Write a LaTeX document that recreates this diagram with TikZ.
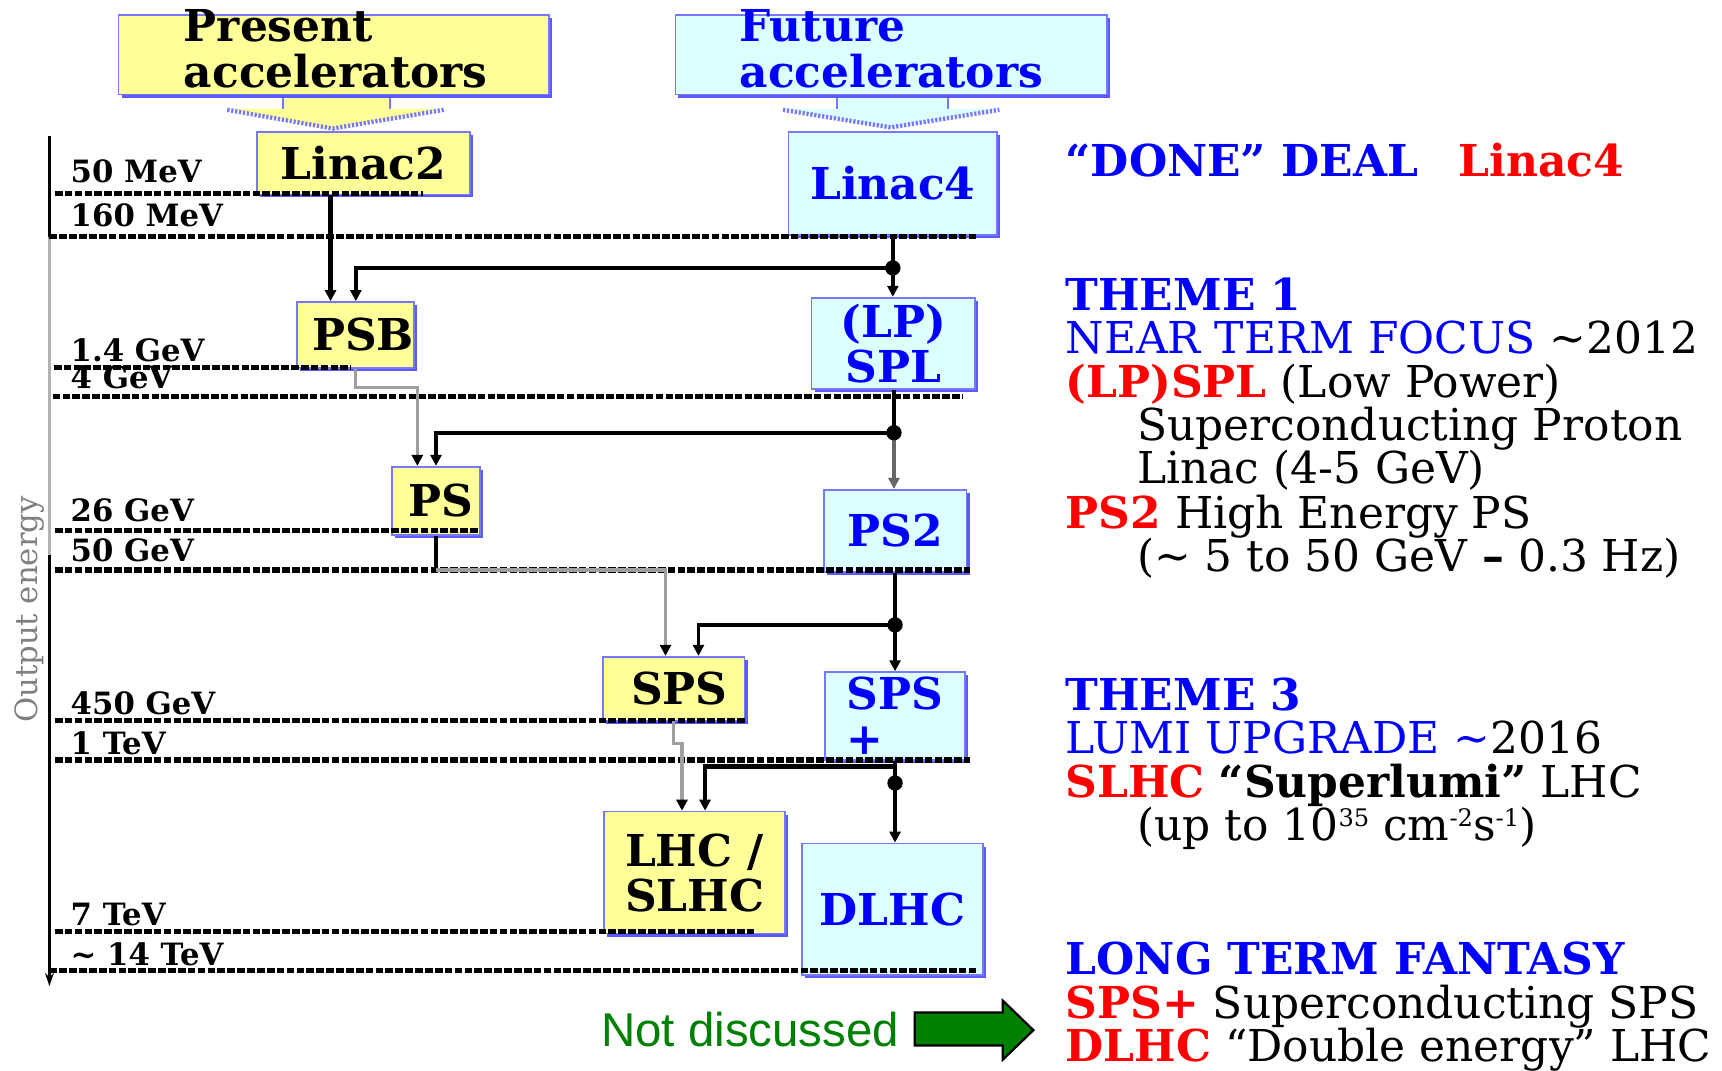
\documentclass[tikz,border=0pt]{standalone}
\usepackage{fontspec}
\setmainfont{DejaVu Serif}
\newfontfamily\sansf{Liberation Sans}
\usetikzlibrary{arrows.meta,shadows}
\definecolor{ylw}{RGB}{255,255,153}
\definecolor{cyn}{RGB}{221,255,255}
\definecolor{bord}{RGB}{120,120,255}
\definecolor{shad}{RGB}{90,90,255}
\definecolor{dgreen}{RGB}{0,128,0}
\definecolor{pblue}{RGB}{0,0,255}
\definecolor{pred}{RGB}{255,0,0}
\newcommand{\supx}[1]{\raisebox{6pt}{\fontsize{11}{11}\selectfont #1}}
\tikzset{
  box/.style={draw=bord, line width=0.8pt, inner sep=0pt, align=center,
    font=\bfseries\fontsize{20}{20.5}\selectfont,
    drop shadow={shadow xshift=1.4pt, shadow yshift=-1.4pt, fill=shad, opacity=1}},
  presbox/.style={box, fill=ylw, text=black},
  futbox/.style={box, fill=cyn, text=pblue},
  tbig/.style={anchor=base west, inner sep=0pt, font=\bfseries\fontsize{20}{20}\selectfont},
  elevel/.style={line width=2.3pt, dash pattern=on 3.5pt off 1pt},
  elabel/.style={anchor=base west, inner sep=0pt, font=\bfseries\fontsize{14}{14}\selectfont},
  wire/.style={line width=2pt, black},
  conn/.style={wire, -{Triangle[length=5pt,width=5pt]}},
  gconn/.style={line width=1.5pt, gray!75, -{Triangle[length=5pt,width=5pt,color=black]}},
  rtext/.style={anchor=base west, inner sep=0pt, font=\fontsize{20}{20}\selectfont},
  dot/.style={fill=black}
}
\begin{document}
\begin{tikzpicture}[x=0.5pt,y=-0.5pt]
\useasboundingbox[fill=white] (0,0) rectangle (1568,975);

% header arrows
\fill[ylw] (258,84) -- (258,99) -- (207,99) -- (303,118) -- (404,99) -- (355,99) -- (355,84) -- cycle;
\draw[bord, line width=0.8pt] (258,86) -- (258,99) (355,99) -- (355,86);
\draw[bord, line width=2pt, dash pattern=on 1pt off 0.8pt] (207,100) -- (303,117) -- (404,100);
\fill[cyn] (762,84) -- (762,99) -- (713,99) -- (811,117) -- (910,99) -- (863,99) -- (863,84) -- cycle;
\draw[bord, line width=0.8pt] (762,86) -- (762,99) (863,99) -- (863,86);
\draw[bord, line width=2pt, dash pattern=on 1pt off 0.8pt] (713,100) -- (811,116) -- (910,100);

% header boxes
\node[presbox, minimum width=196pt, minimum height=36pt] (pres) at (304,50) {};
\node[tbig] (pres1) at (167,38) {Present};
\node[tbig] (pres2) at (167,80) {accelerators};
\node[futbox, minimum width=196.5pt, minimum height=36pt] (fut) at (811.5,50) {};
\node[tbig, text=pblue] (fut1) at (673,38) {Future};
\node[tbig, text=pblue] (fut2) at (673,80) {accelerators};

% accelerator boxes
\node[presbox, minimum width=97pt, minimum height=28.5pt] (linac2) at (331,148.5) {Linac2};
\node[futbox, minimum width=95pt, minimum height=47pt] (linac4) at (813,167) {Linac4};
\node[presbox, minimum width=52.5pt, minimum height=30pt] (psb) at (323.5,305) {\hspace*{7pt}PSB};
\node[futbox, minimum width=74.5pt, minimum height=41.5pt] (spl) at (813.5,312.5) {(LP)\\SPL};
\node[presbox, minimum width=40pt, minimum height=31pt] (ps) at (397,456) {\hspace*{4pt}PS};
\node[futbox, minimum width=65pt, minimum height=37.5pt] (ps2) at (815,483.5) {PS2};
\node[presbox, minimum width=64.5pt, minimum height=29pt] (sps) at (613.5,627) {\hspace*{5pt}SPS};
\node[futbox, minimum width=64pt, minimum height=40pt, align=left] (spsp) at (815,652) {SPS\\+};
\node[presbox, minimum width=82.5pt, minimum height=55.5pt, align=left] (lhc) at (632.5,794.5) {LHC /\\SLHC};
\node[futbox, minimum width=82.5pt, minimum height=60pt] (dlhc) at (812.5,828) {DLHC};

% axis
\coordinate (axtop) at (45,124);
\coordinate (axbot) at (45,898);
\draw[line width=1.1pt, -{Stealth[length=6pt,width=4pt]}] (axtop) -- (axbot);
\draw[gray!60, line width=1.4pt] (45,216) -- (45,505);
\node[rotate=90, text=gray, inner sep=0pt, font=\fontsize{14}{14}\selectfont] (axlab) at (27,555) {Output energy};

% energy levels
\draw[elevel] (50,176) -- (385,176);
\draw[elevel] (45,215) -- (891,215);
\draw[elevel] (49,335) -- (320,335);
\draw[elevel] (48,361) -- (877,361);
\draw[elevel] (50,483) -- (437,483);
\draw[elevel] (50,519) -- (883,519);
\draw[elevel] (50,656) -- (678,656);
\draw[elevel] (50,692) -- (883,692);
\draw[elevel] (50,848) -- (688,848);
\draw[elevel] (45,884) -- (890,884);
\node[elabel] (e1) at (64,166) {50 MeV};
\node[elabel] (e2) at (64,206) {160 MeV};
\node[elabel] (e3) at (64,329) {1.4 GeV};
\node[elabel] (e4) at (64,354) {4 GeV};
\node[elabel] (e5) at (64,475) {26 GeV};
\node[elabel] (e6) at (64,511) {50 GeV};
\node[elabel] (e7) at (64,651) {450 GeV};
\node[elabel] (e8) at (64,687) {1 TeV};
\node[elabel] (e9) at (64,843) {7 TeV};
\node[elabel] (e10) at (64,879) {\textasciitilde{} 14 TeV};

% guides and junctions
\coordinate (gA) at (301,0);
\coordinate (gB) at (324,0);
\coordinate (gC) at (380,0);
\coordinate (gD) at (397,0);
\coordinate (gE) at (606,0);
\coordinate (gF) at (636,0);
\coordinate (gG) at (613,0);
\coordinate (gH) at (621,0);
\coordinate (gI) at (642,0);
\coordinate (j1) at (813,244);
\coordinate (j2) at (814,394);
\coordinate (j3) at (815,569);
\coordinate (k4) at (815,698);
\coordinate (j4) at (815,713);
\coordinate (b1) at (380,353);
\coordinate (b2) at (397,519);
\coordinate (b3) at (621,677);

% connectors
\draw[conn] (linac2.south -| gA) -- (psb.north -| gA);
\draw[wire] (linac4.south -| j1) -- (j1);
\draw[conn, line width=1.5pt] (j1) -- (spl.north -| j1);
\draw[conn] (j1) -| (psb.north -| gB);
\draw[gconn] (psb.south -| gB) |- (b1) -- (ps.north -| gC);
\draw[wire] (spl.south -| j2) -- (j2);
\draw[conn, line width=1.5pt, gray!80!black] (j2) -- (ps2.north -| j2);
\draw[conn] (j2) -| (ps.north -| gD);
\draw[wire, line width=1.5pt] (ps.south -| gD) -- (b2);
\draw[gconn] (b2) -| (sps.north -| gE);
\draw[wire] (ps2.south -| j3) -- (j3);
\draw[conn] (j3) -- (spsp.north -| j3);
\draw[conn, line width=1.5pt] (j3) -| (sps.north -| gF);
\draw[gconn] (sps.south -| gG) |- (b3) -- (lhc.north -| gH);
\draw[wire, line width=1.5pt] (spsp.south -| k4) -- (k4);
\draw[conn] (k4) -| (lhc.north -| gI);
\draw[conn, line width=1.5pt] (k4) -- (dlhc.north -| k4);
\foreach \j in {j1,j2,j3,j4} \fill[dot] (\j) circle[radius=3.5pt];

% right column
\node[rtext, font=\bfseries\fontsize{20}{20}\selectfont, text=pblue] (r1) at (970,161) {“DONE” DEAL};
\node[rtext, font=\bfseries\fontsize{20}{20}\selectfont, text=pred] (r1b) at (1328,161) {Linac4};
\node[rtext, font=\bfseries\fontsize{20}{20}\selectfont, text=pblue] (r2) at (970,283) {THEME 1};
\node[rtext] (r3) at (970,322) {\textcolor{pblue}{NEAR TERM FOCUS} \textasciitilde2012};
\node[rtext] (r4) at (970,362) {\textcolor{pred}{\bfseries (LP)SPL} (Low Power)};
\node[rtext] (r5) at (1035,401) {Superconducting Proton};
\node[rtext] (r6) at (1035,440) {Linac (4-5 GeV)};
\node[rtext] (r7) at (970,481) {\textcolor{pred}{\bfseries PS2} High Energy PS};
\node[rtext] (r8) at (1035,520) {(\textasciitilde{} 5 to 50 GeV \textbf{–} 0.3 Hz)};
\node[rtext, font=\bfseries\fontsize{20}{20}\selectfont, text=pblue] (r9) at (970,647) {THEME 3};
\node[rtext] (r10) at (970,686) {\textcolor{pblue}{LUMI UPGRADE \textasciitilde}2016};
\node[rtext] (r11) at (970,726) {\textcolor{pred}{\bfseries SLHC} \textbf{“Superlumi”} LHC};
\node[rtext] (r12) at (1035,765) {(up to 10\supx{35} cm\supx{-2}s\supx{-1})};
\node[rtext, font=\bfseries\fontsize{20}{20}\selectfont, text=pblue] (r13) at (970,887) {LONG TERM FANTASY};
\node[rtext] (r14) at (970,927) {\textcolor{pred}{\bfseries SPS+} Superconducting SPS};
\node[rtext] (r15) at (970,967) {\textcolor{pred}{\bfseries DLHC} “Double energy” LHC};

% not discussed
\node[anchor=base west, inner sep=0pt, text=dgreen, font=\sansf\fontsize{21.6}{21.6}\selectfont] (nd) at (547,953) {Not discussed};
\draw[fill=dgreen, draw=black, line width=1pt] (833,922) -- (913,922) -- (913,911) -- (941,938) -- (913,965) -- (913,952) -- (833,952) -- cycle;
\end{tikzpicture}
\end{document}
